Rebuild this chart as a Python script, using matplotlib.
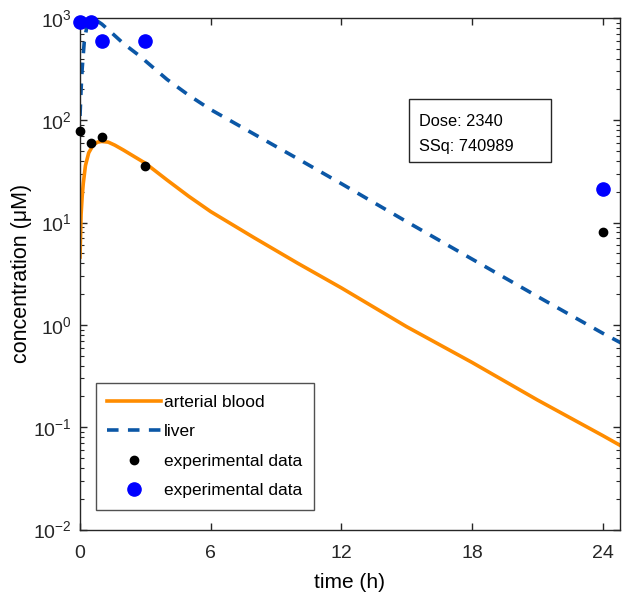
import matplotlib
matplotlib.use("Agg")
import matplotlib.pyplot as plt
from matplotlib.ticker import LogLocator, FixedLocator, NullFormatter
from matplotlib.patches import Rectangle

plt.rcParams['font.family'] = ['Liberation Sans', 'DejaVu Sans']
plt.rcParams['mathtext.fontset'] = 'custom'
plt.rcParams['mathtext.rm'] = 'Liberation Sans'
plt.rcParams['mathtext.it'] = 'Liberation Sans'

# Simulated curves
t_blood = [0, 0.05, 0.1, 0.15, 0.25, 0.4, 0.6, 0.8, 1.0, 1.3, 1.6, 2, 2.5, 3, 4, 5, 6, 8, 10, 12, 15, 18, 21, 24, 25]
c_blood = [4.6, 12, 18, 24, 36, 48, 57, 61, 62, 61, 57, 51, 44, 38, 26, 18, 12.8, 7.1, 4.0, 2.3, 0.96, 0.43, 0.185, 0.083, 0.063]

t_liver = [0, 0.05, 0.1, 0.2, 0.35, 0.5, 0.7, 1, 1.5, 2, 2.8, 3, 4, 5, 6, 8, 10, 12, 15, 18, 21, 24, 25]
c_liver = [110, 200, 320, 600, 900, 980, 960, 870, 700, 560, 415, 380, 250, 175, 127, 73, 42, 24, 10.2, 4.4, 1.9, 0.83, 0.64]

# Experimental data
t_exp = [0, 0.5, 1, 3, 24]
blood_exp = [78, 60, 68, 36, 8]
liver_exp = [920, 920, 600, 590, 21.5]

legend_labels = ['arterial blood', 'liver', 'experimental data', 'experimental data']
x_ticks = [0, 6, 12, 18, 24]
info_lines = ['Dose: 2340', 'SSq: 740989']

fig = plt.figure(figsize=(6.25, 5.95), dpi=100)
ax = fig.add_axes([0.128, 0.110, 0.864, 0.860])

ax.plot(t_blood, c_blood, color='#FF8C00', lw=2.6, label=legend_labels[0])
ax.plot(t_liver, c_liver, color='#0B57A6', lw=2.6, ls=(0, (3.2, 2.6)), label=legend_labels[1])
ax.plot(t_exp, blood_exp, 'o', color='black', ms=6, label=legend_labels[2], clip_on=False, zorder=5)
ax.plot(t_exp, liver_exp, 'o', color='#0000FF', ms=9.5, label=legend_labels[3], clip_on=False, zorder=5)

ax.set_yscale('log')
ax.set_xlim(0, 24.8)
ax.set_ylim(1e-2, 1e3)
ax.xaxis.set_major_locator(FixedLocator(x_ticks))
ax.yaxis.set_major_locator(LogLocator(base=10, numticks=10))
ax.yaxis.set_minor_locator(LogLocator(base=10, subs=range(2, 10), numticks=20))
ax.yaxis.set_minor_formatter(NullFormatter())

ax.tick_params(which='both', direction='in', top=True, right=True, labelsize=14, colors='#262626')
ax.tick_params(which='major', length=5, width=1)
ax.tick_params(which='minor', length=3, width=0.8)
ax.tick_params(axis='x', pad=11)
ax.tick_params(axis='y', pad=6)
for s in ax.spines.values():
    s.set_color('#262626')
    s.set_linewidth(1)

ax.set_xlabel('time (h)', fontsize=15, labelpad=8)
ax.set_ylabel('concentration (μM)', fontsize=15.5, labelpad=1)

leg = ax.legend(loc='lower left', bbox_to_anchor=(0.029, 0.039), fontsize=12.5,
                frameon=True, fancybox=False, edgecolor='#262626', handlelength=3.1,
                handletextpad=0.2, labelspacing=0.83, borderpad=0.65, borderaxespad=0)
leg.get_frame().set_linewidth(1)

ax.add_patch(Rectangle((0.610, 0.719), 0.262, 0.123, transform=ax.transAxes,
                       fc='white', ec='#262626', lw=1, zorder=6))
ax.text(0.627, 0.797, info_lines[0], transform=ax.transAxes, fontsize=11.8,
        va='center', ha='left', zorder=7)
ax.text(0.627, 0.748, info_lines[1], transform=ax.transAxes, fontsize=11.8,
        va='center', ha='left', zorder=7)

fig.savefig('out.png', dpi=100)
